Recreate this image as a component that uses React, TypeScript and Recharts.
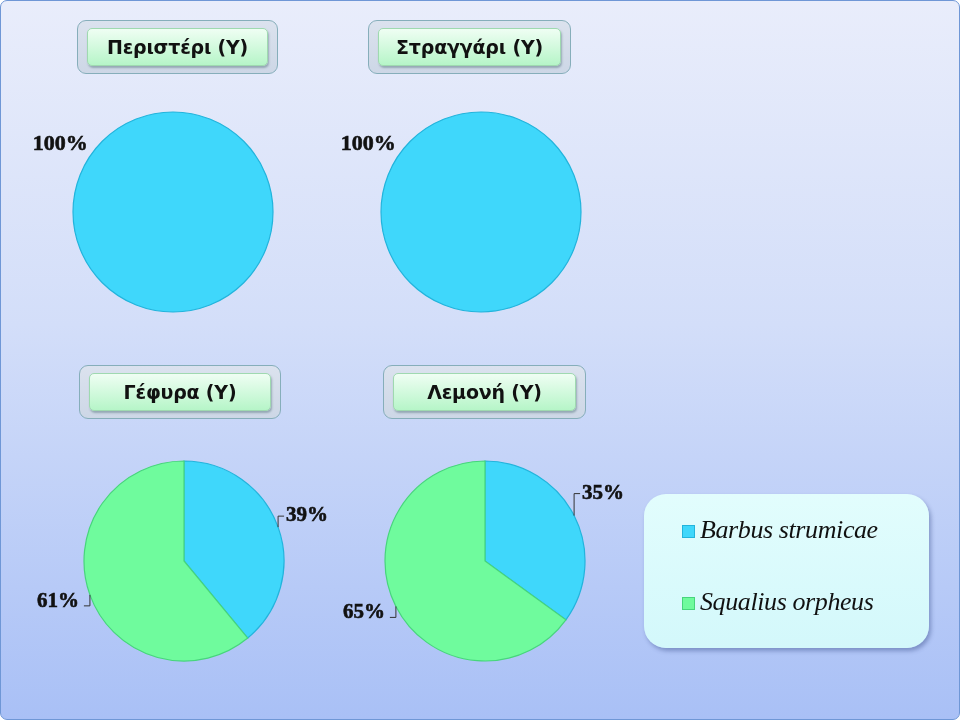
import React from 'react';
import { Legend, Pie, PieChart, Sector } from 'recharts';

const sites = ['Περιστέρι (Υ)', 'Στραγγάρι (Υ)', 'Γέφυρα (Υ)', 'Λεμονή (Υ)'];
const species = ['Barbus strumicae', 'Squalius orpheus'];
const barbusShare = [100, 100, 39, 35];
const squaliusShare = [0, 0, 61, 65];

const colors = ['#3fd7fb', '#6ffb9d'];
const edges = ['#22b4dc', '#47d57c'];

// panel layout (pie centre + title box); PieChart adds a 5px margin + 1px border
const panels = [
  { cx: 167, cy: 206, titleX: 76, titleY: 19, titleW: 201 },
  { cx: 475, cy: 206, titleX: 367, titleY: 19, titleW: 203 },
  { cx: 178, cy: 555, titleX: 78, titleY: 364, titleW: 202 },
  { cx: 479, cy: 555, titleX: 382, titleY: 364, titleW: 203 },
];

const RAD = Math.PI / 180;

const labelStyle = {
  fontFamily: '"Liberation Serif", serif',
  fontWeight: 700,
  fontSize: 21,
  fill: '#111',
  stroke: '#111',
  strokeWidth: 0.6,
  paintOrder: 'stroke',
} as React.CSSProperties;

function renderLabel(props: any) {
  const { cx, cy, midAngle, outerRadius, percent } = props;
  const txt = `${Math.round(percent * 100)}%`;
  if (percent > 0.999) {
    const a = 140 * RAD;
    const x = cx + (outerRadius + 14) * Math.cos(a);
    const y = cy - (outerRadius + 14) * Math.sin(a);
    return (
      <text x={x + 2} y={y + 11} textAnchor="end" style={{ ...labelStyle, fontSize: 22 }}>
        {txt}
      </text>
    );
  }
  const cos = Math.cos(-midAngle * RAD);
  const sin = Math.sin(-midAngle * RAD);
  const x0 = cx + outerRadius * cos;
  const y0 = cy + outerRadius * sin;
  const right = cos >= 0;
  const upper = sin < 0;
  const len = percent < 0.37 && percent > 0.3 ? 22 : 11;
  const ey = y0 + (upper ? -len : len);
  const ex = x0 + (right ? 6 : -6);
  return (
    <g>
      <path d={`M${x0},${y0}L${x0},${ey}L${ex},${ey}`} stroke="#333" strokeWidth={1} fill="none" />
      <text
        x={ex + (right ? 2 : -5)}
        y={ey + (right ? 5 : 1)}
        textAnchor={right ? 'start' : 'end'}
        style={labelStyle}
      >
        {txt}
      </text>
    </g>
  );
}

// full single slice: draw as a plain circle so no radial edge shows
function renderSlice(props: any) {
  const { cx, cy, outerRadius, percent, fill, stroke } = props;
  if (percent > 0.999) {
    return <circle cx={cx} cy={cy} r={outerRadius} fill={fill} stroke={stroke} strokeWidth={1.2} />;
  }
  return <Sector {...props} />;
}

function LegendBox() {
  return (
    <div
      style={{
        position: 'absolute',
        left: 643,
        top: 493,
        width: 285,
        height: 154,
        borderRadius: 22,
        background: 'linear-gradient(#e2fdfd, #d3f8fb)',
        boxShadow: '2px 3px 4px rgba(60,80,140,0.45)',
      }}
    >
      {species.map((s, i) => (
        <div
          key={s}
          style={{
            position: 'absolute',
            left: 38,
            top: i === 0 ? 21 : 93,
            display: 'flex',
            alignItems: 'center',
          }}
        >
          <span
            style={{
              width: 11,
              height: 11,
              background: colors[i],
              border: `1px solid ${edges[i]}`,
              marginRight: 5,
              marginTop: 3,
            }}
          />
          <span
            style={{
              fontFamily: '"Liberation Serif", serif',
              fontStyle: 'italic',
              fontSize: 26,
              color: '#111',
              letterSpacing: -0.4,
            }}
          >
            {s}
          </span>
        </div>
      ))}
    </div>
  );
}

function TitleBox({ text, x, y, w }: { text: string; x: number; y: number; w: number }) {
  return (
    <div
      style={{
        position: 'absolute',
        left: x,
        top: y,
        width: w,
        height: 54,
        boxSizing: 'border-box',
        borderRadius: 9,
        border: '1px solid #86aeba',
        background: 'linear-gradient(#dbe2ee, #cdd7e6)',
        padding: '7px 9px',
      }}
    >
      <div
        style={{
          height: 38,
          boxSizing: 'border-box',
          borderRadius: 5,
          border: '1px solid #9fd9b0',
          background: 'linear-gradient(#effef3, #b6f5c8)',
          boxShadow: '1px 2px 2px rgba(80,110,120,0.45)',
          display: 'flex',
          alignItems: 'center',
          justifyContent: 'center',
          fontFamily: '"DejaVu Sans", sans-serif',
          fontWeight: 700,
          fontSize: 19,
          letterSpacing: -0.2,
          color: '#111',
        }}
      >
        {text}
      </div>
    </div>
  );
}

export default function App() {
  const pies = sites.map((site, i) =>
    [
      { name: species[0], value: barbusShare[i], fill: colors[0], stroke: edges[0] },
      { name: species[1], value: squaliusShare[i], fill: colors[1], stroke: edges[1] },
    ].filter((d) => d.value > 0)
  );

  return (
    <div
      style={{
        position: 'fixed',
        left: 0,
        top: 0,
        width: 960,
        height: 720,
        boxSizing: 'border-box',
        border: '1px solid #6f97d6',
        borderRadius: 7,
        background: 'linear-gradient(#e9edfb 0%, #d3def9 45%, #a9c0f6 100%)',
        overflow: 'hidden',
      }}
    >
      <PieChart width={960} height={720} style={{ position: 'absolute', left: 0, top: 0 }}>
        {pies.map((data, i) => (
          <Pie
            key={sites[i]}
            data={data}
            dataKey="value"
            nameKey="name"
            cx={panels[i].cx}
            cy={panels[i].cy}
            outerRadius={100}
            startAngle={90}
            endAngle={-270}
            strokeWidth={1.2}
            shape={renderSlice}
            label={renderLabel}
            labelLine={false}
            isAnimationActive={false}
          />
        ))}
        <Legend content={() => null} />
      </PieChart>
      {sites.map((s, i) => (
        <TitleBox key={s} text={s} x={panels[i].titleX} y={panels[i].titleY} w={panels[i].titleW} />
      ))}
      <LegendBox />
    </div>
  );
}
